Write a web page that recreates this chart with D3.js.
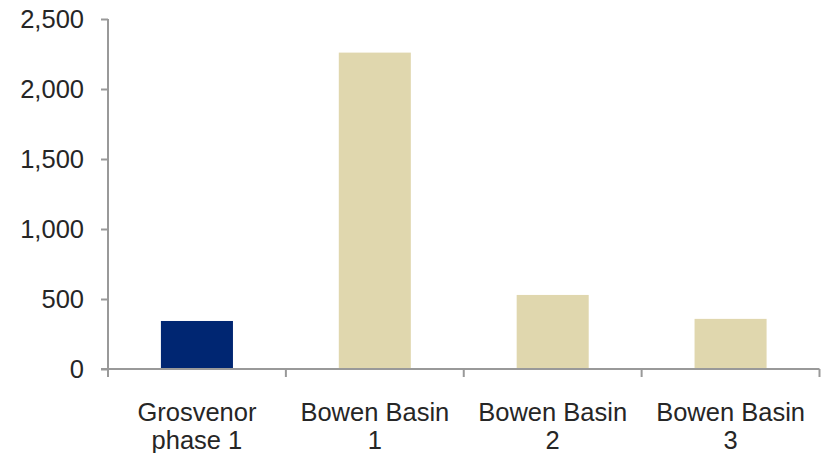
<!DOCTYPE html>
<html>
<head>
<meta charset="utf-8">
<script src="https://cdn.jsdelivr.net/npm/d3@7"></script>
<style>
  html, body { margin: 0; padding: 0; background: #fff; }
  svg { display: block; }
  text { font-family: "Liberation Sans", Arial, sans-serif; fill: #262626; }
</style>
</head>
<body>
<svg id="chart" width="829" height="453"></svg>
<script>
const categories = [["Grosvenor", "phase 1"], ["Bowen Basin", "1"], ["Bowen Basin", "2"], ["Bowen Basin", "3"]];
const values = [343, 2260, 529, 358];
const barColors = ["#002672", "#E0D7AE", "#E0D7AE", "#E0D7AE"];
const yTicks = [0, 500, 1000, 1500, 2000, 2500];

const svg = d3.select("#chart");
const axisColor = "#999999";
const fontSize = 25.5;

const x = d3.scaleBand().domain(d3.range(categories.length)).range([108, 819.5]).padding(0);
const y = d3.scaleLinear().domain([0, 2500]).range([369, 19]);

const barW = x.bandwidth() * 0.405;

// bars
svg.append("g").selectAll("rect")
  .data(values)
  .join("rect")
  .attr("x", (d, i) => x(i) + x.bandwidth() / 2 - barW / 2)
  .attr("width", barW)
  .attr("y", d => y(d))
  .attr("height", d => y(0) - y(d))
  .attr("fill", (d, i) => barColors[i]);

// y axis
const yAxis = svg.append("g").attr("transform", "translate(108,0)")
  .call(d3.axisLeft(y).tickValues(yTicks).tickSize(7).tickPadding(17).tickFormat(d3.format(",")));
yAxis.select(".domain").remove();
yAxis.selectAll(".tick line").attr("stroke", axisColor).attr("stroke-width", 2);
yAxis.selectAll(".tick text").attr("font-size", fontSize).attr("font-family", "Liberation Sans, Arial, sans-serif").attr("fill", "#262626");
svg.append("line").attr("x1", 108).attr("x2", 108).attr("y1", y(2500)).attr("y2", y(0))
  .attr("stroke", axisColor).attr("stroke-width", 2);

// x axis line and boundary ticks
svg.append("line").attr("x1", 101).attr("x2", 819.5).attr("y1", y(0)).attr("y2", y(0))
  .attr("stroke", axisColor).attr("stroke-width", 2);
const bounds = d3.range(categories.length + 1).map(i => i < categories.length ? x(i) : x.range()[1]);
svg.append("g").selectAll("line")
  .data(bounds)
  .join("line")
  .attr("x1", d => d).attr("x2", d => d)
  .attr("y1", y(0)).attr("y2", y(0) + 8)
  .attr("stroke", axisColor).attr("stroke-width", 2);

// category labels
const labels = svg.append("g").selectAll("text")
  .data(categories)
  .join("text")
  .attr("text-anchor", "middle")
  .attr("font-size", fontSize)
  .attr("x", (d, i) => x(i) + x.bandwidth() / 2)
  .attr("y", 421);
labels.selectAll("tspan")
  .data(d => d)
  .join("tspan")
  .attr("x", function() { return d3.select(this.parentNode).attr("x"); })
  .attr("dy", (d, j) => j === 0 ? 0 : 28)
  .text(d => d);
</script>
</body>
</html>
